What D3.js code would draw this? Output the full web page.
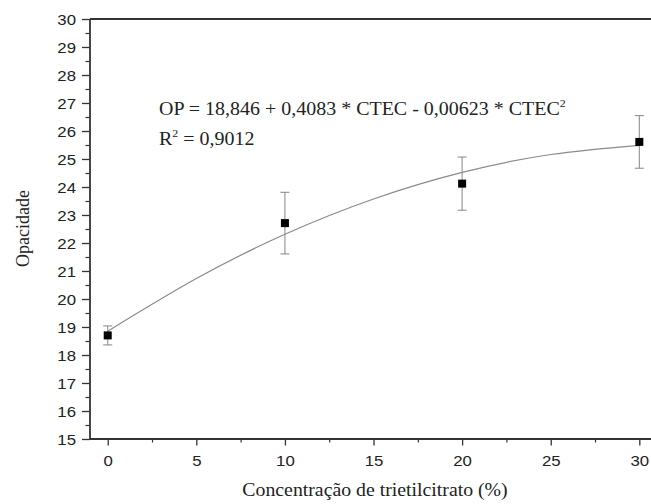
<!DOCTYPE html>
<html>
<head>
<meta charset="utf-8">
<script src="https://cdn.jsdelivr.net/npm/d3@7"></script>
<style>
  html, body { margin: 0; padding: 0; background: #fff; }
  svg { display: block; }
</style>
</head>
<body>
<svg id="chart" width="651" height="504"></svg>
<script>
// ---- data ----
const concentrations = [0, 10, 20, 30];
const opacity = [18.7, 22.71, 24.12, 25.61];
const opacityError = [0.34, 1.1, 0.95, 0.94];
// fitted curve
const fitCurveX = [0, 5, 10, 15, 20, 25, 30];
const fitCurveY = [18.85, 20.73, 22.31, 23.57, 24.52, 25.16, 25.49];
const xTickValues = [0, 5, 10, 15, 20, 25, 30];
const xMinorTickValues = [2.5, 7.5, 12.5, 17.5, 22.5, 27.5];
const yTickValues = [15, 16, 17, 18, 19, 20, 21, 22, 23, 24, 25, 26, 27, 28, 29, 30];
const yMinorTickValues = [15.5, 16.5, 17.5, 18.5, 19.5, 20.5, 21.5, 22.5, 23.5, 24.5, 25.5, 26.5, 27.5, 28.5, 29.5];
const equationText = "OP = 18,846 + 0,4083 * CTEC - 0,00623 * CTEC";
const r2Text = "R";
const r2Value = " = 0,9012";
const xTitle = "Concentração de trietilcitrato (%)";
const yTitle = "Opacidade";

// ---- layout ----
const svg = d3.select("#chart");
const plotLeft = 90, plotTop = 19, plotBottom = 439;
const x = d3.scaleLinear().domain([-1, 31]).range([plotLeft, plotLeft + 32 * 17.72]);
const y = d3.scaleLinear().domain([15, 30]).range([plotBottom, plotTop]);
const axisColor = "#333";
const stretch = 1.1;

// minor ticks
svg.append("g")
  .attr("transform", `translate(${plotLeft},0)`)
  .call(d3.axisLeft(y).tickValues(yMinorTickValues).tickSize(4.5).tickFormat(""))
  .call(g => g.select(".domain").remove())
  .call(g => g.selectAll("line").attr("stroke", axisColor).attr("stroke-width", 1.2));
svg.append("g")
  .attr("transform", `translate(0,${plotBottom})`)
  .call(d3.axisBottom(x).tickValues(xMinorTickValues).tickSize(3.5).tickFormat(""))
  .call(g => g.select(".domain").remove())
  .call(g => g.selectAll("line").attr("stroke", axisColor).attr("stroke-width", 1.2));

// major y axis
const yAxis = svg.append("g")
  .attr("transform", `translate(${plotLeft},0)`)
  .call(d3.axisLeft(y).tickValues(yTickValues).tickSize(8).tickFormat(d3.format("d")));
yAxis.select(".domain").remove();
yAxis.selectAll("line").attr("stroke", axisColor).attr("stroke-width", 1.3);
yAxis.selectAll("text")
  .attr("x", null).attr("dy", "0.34em")
  .attr("transform", `translate(-14,0) scale(1.12,1)`)
  .attr("text-anchor", "end")
  .style("font-family", "'Liberation Sans', Arial, sans-serif")
  .style("font-size", "15px")
  .attr("fill", "#222");

// major x axis
const xAxis = svg.append("g")
  .attr("transform", `translate(0,${plotBottom})`)
  .call(d3.axisBottom(x).tickValues(xTickValues).tickSize(6.5).tickFormat(d3.format("d")));
xAxis.select(".domain").remove();
xAxis.selectAll("line").attr("stroke", axisColor).attr("stroke-width", 1.3);
xAxis.selectAll("text")
  .attr("y", null).attr("dy", null)
  .attr("transform", `translate(0,26.7) scale(1.12,1)`)
  .style("font-family", "'Liberation Sans', Arial, sans-serif")
  .style("font-size", "15px")
  .attr("fill", "#222");

// frame lines (left, top, bottom)
const frame = svg.append("g").attr("stroke", axisColor).attr("stroke-width", 1.8).attr("fill", "none");
frame.append("line").attr("x1", plotLeft).attr("x2", plotLeft).attr("y1", y(30)).attr("y2", y(15));
frame.append("line").attr("x1", plotLeft).attr("x2", x(31)).attr("y1", y(30)).attr("y2", y(30));
frame.append("line").attr("x1", plotLeft).attr("x2", x(31)).attr("y1", y(15)).attr("y2", y(15));

// fit curve
const curvePts = fitCurveX.map((v, i) => [v, fitCurveY[i]]);
svg.append("path")
  .datum(curvePts)
  .attr("fill", "none")
  .attr("stroke", "#8a8a8a")
  .attr("stroke-width", 1.2)
  .attr("d", d3.line().x(d => x(d[0])).y(d => y(d[1])).curve(d3.curveNatural));

// error bars
const pts = concentrations.map((c, i) => ({ c, v: opacity[i], e: opacityError[i] }));
const eb = svg.append("g").attr("stroke", "#909090").attr("stroke-width", 1.1);
pts.forEach(p => {
  eb.append("line").attr("x1", x(p.c)).attr("x2", x(p.c)).attr("y1", y(p.v - p.e)).attr("y2", y(p.v + p.e));
  eb.append("line").attr("x1", x(p.c) - 4.5).attr("x2", x(p.c) + 4.5).attr("y1", y(p.v + p.e)).attr("y2", y(p.v + p.e));
  eb.append("line").attr("x1", x(p.c) - 4.5).attr("x2", x(p.c) + 4.5).attr("y1", y(p.v - p.e)).attr("y2", y(p.v - p.e));
});

// markers
svg.append("g").selectAll("rect").data(pts).join("rect")
  .attr("x", d => x(d.c) - 4).attr("y", d => y(d.v) - 4)
  .attr("width", 8).attr("height", 8)
  .attr("fill", "#000");

// equation text
const serif = "'Liberation Serif', 'Times New Roman', serif";
const eq = svg.append("text")
  .attr("transform", `translate(159,115.3) scale(1.08,1)`)
  .style("font-family", serif).style("font-size", "18.5px").attr("fill", "#222");
eq.append("tspan").text(equationText);
eq.append("tspan").attr("dy", -8).style("font-size", "11px").text("2");

const r2 = svg.append("text")
  .attr("transform", `translate(159,145) scale(1.08,1)`)
  .style("font-family", serif).style("font-size", "18.5px").attr("fill", "#222");
r2.append("tspan").text(r2Text);
r2.append("tspan").attr("dy", -8).style("font-size", "11px").text("2");
r2.append("tspan").attr("dy", 8).text(r2Value);

// axis titles
svg.append("text")
  .attr("transform", `translate(375,496) scale(${stretch},1)`)
  .attr("text-anchor", "middle")
  .style("font-family", serif).style("font-size", "18px").attr("fill", "#222")
  .text(xTitle);
svg.append("text")
  .attr("transform", `translate(29,228.5) rotate(-90)`)
  .attr("text-anchor", "middle")
  .style("font-family", serif).style("font-size", "18px").attr("fill", "#222")
  .text(yTitle);
</script>
</body>
</html>
